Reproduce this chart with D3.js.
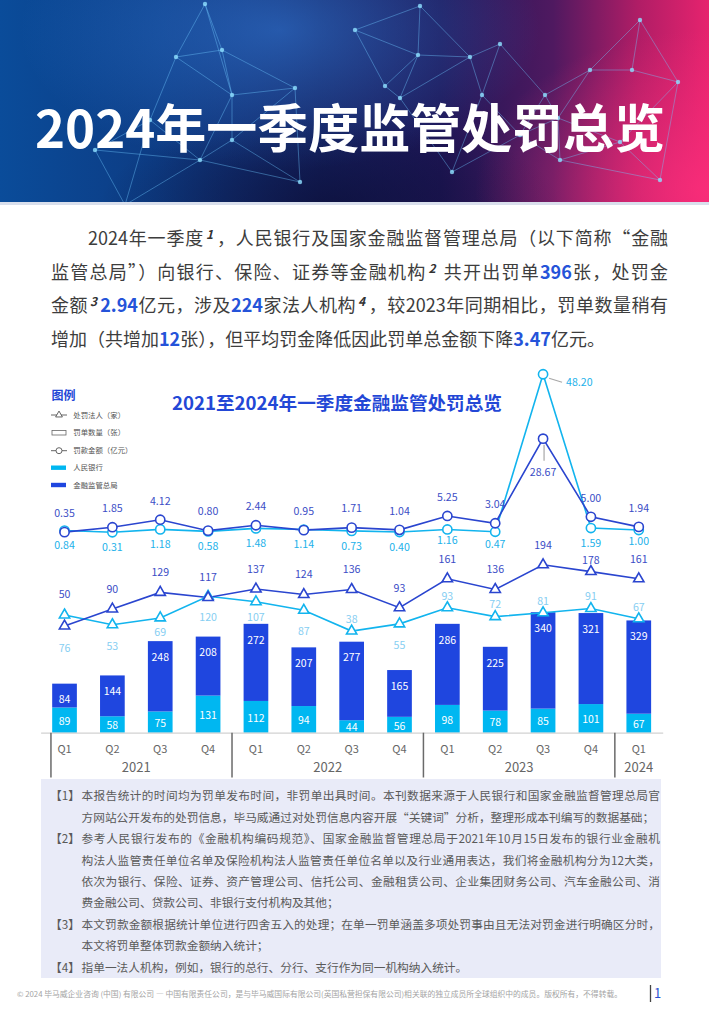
<!DOCTYPE html>
<html lang="zh-CN"><head><meta charset="utf-8">
<script src="https://cdn.jsdelivr.net/npm/d3@7"></script>
<style>
html,body{margin:0;padding:0;background:#fff;}
body{width:709px;height:1024px;position:relative;overflow:hidden;font-family:"Noto Sans CJK SC","Noto Sans",sans-serif;}
#svg{position:absolute;left:0;top:0;}
.para{position:absolute;left:51px;top:221.3px;width:617px;font-size:18px;color:#3d3d3d;}
.para .ln{height:33.5px;line-height:33.5px;text-align:justify;text-align-last:justify;}
.para .ln.first{padding-left:37px;}
.para .ln.last{text-align-last:left;}
.para b{color:#2553d9;font-weight:700;}
.para i{font-style:italic;font-weight:700;font-size:12px;position:relative;top:-6px;color:#333;margin:0 3px 0 2px;}
.fn{position:absolute;left:41px;top:779px;width:620px;height:199px;background:#e9ebf8;}
.fn .ln{position:absolute;left:40.5px;width:578.5px;font-size:11.7px;line-height:21.4px;height:21.4px;color:#5a5a5a;text-align:justify;text-align-last:justify;}
.fn .ln.last{text-align-last:left;}
.fn .tag{position:absolute;left:9px;font-size:11.7px;line-height:21.4px;color:#5a5a5a;}
</style></head>
<body>
<svg id="svg" width="709" height="1024"></svg>
<div class="para" id="para"></div>
<div class="fn" id="fn"></div>
<script>
// ---------------- DATA ----------------
const quarters = ['Q1','Q2','Q3','Q4','Q1','Q2','Q3','Q4','Q1','Q2','Q3','Q4','Q1'];
const yearLabels = ['2021','2022','2023','2024'];
const yearQuarterCounts = [4,4,4,1];
// 罚单数量（张）
const pbocTickets = [89,58,75,131,112,94,44,56,98,78,85,101,67];
const nfraTickets = [84,144,248,208,272,207,277,165,286,225,340,321,329];
// 处罚法人（家）
const pbocEntities = [76,53,69,120,107,87,38,55,93,72,81,91,67];
const nfraEntities = [50,90,129,117,137,124,136,93,161,136,194,178,161];
// 罚款金额（亿元）
const pbocFines = [0.84,0.31,1.18,0.58,1.48,1.14,0.73,0.40,1.16,0.47,48.20,1.59,1.00];
const nfraFines = [0.35,1.85,4.12,0.80,2.44,0.95,1.71,1.04,5.25,3.04,28.67,5.00,1.94];

const pageTitle = '2024年一季度监管处罚总览';
const chartTitle = '2021至2024年一季度金融监管处罚总览';
const legendTitle = '图例';
const legendItems = ['处罚法人（家）','罚单数量（张）','罚款金额（亿元）','人民银行','金融监管总局'];

const paraLines = [
  '2024年一季度<i>1</i>，人民银行及国家金融监督管理总局（以下简称“金融',
  '监管总局”）向银行、保险、证券等金融机构<i>2</i> 共开出罚单<b>396</b>张，处罚金',
  '金额<i>3</i><b>2.94</b>亿元，涉及<b>224</b>家法人机构<i>4</i>，较2023年同期相比，罚单数量稍有',
  '增加（共增加<b>12</b>张），但平均罚金降低因此罚单总金额下降<b>3.47</b>亿元。'
];
const footnotes = [
  {tag:'【1】', lines:['本报告统计的时间均为罚单发布时间，非罚单出具时间。本刊数据来源于人民银行和国家金融监督管理总局官','方网站公开发布的处罚信息，毕马威通过对处罚信息内容开展“关键词”分析，整理形成本刊编写的数据基础；']},
  {tag:'【2】', lines:['参考人民银行发布的《金融机构编码规范》、国家金融监督管理总局于2021年10月15日发布的银行业金融机','构法人监管责任单位名单及保险机构法人监管责任单位名单以及行业通用表达，我们将金融机构分为12大类，','依次为银行、保险、证券、资产管理公司、信托公司、金融租赁公司、企业集团财务公司、汽车金融公司、消','费金融公司、贷款公司、非银行支付机构及其他；']},
  {tag:'【3】', lines:['本文罚款金额根据统计单位进行四舍五入的处理；在单一罚单涵盖多项处罚事由且无法对罚金进行明确区分时，','本文将罚单整体罚款金额纳入统计；']},
  {tag:'【4】', lines:['指单一法人机构，例如，银行的总行、分行、支行作为同一机构纳入统计。']}
];
const footerText = '© 2024 毕马威企业咨询 (中国) 有限公司 — 中国有限责任公司，是与毕马威国际有限公司(英国私营担保有限公司)相关联的独立成员所全球组织中的成员。版权所有，不得转载。';
const pageNumber = '1';

// ---------------- STYLE ----------------
const C = {
  darkBar:'#1f46df', lightBar:'#00b7f1',
  darkLine:'#2a45cf', lightLine:'#12b4ee',
  darkLabel:'#3b4dc6', lightFineLabel:'#22b1ea', lightEntLabel:'#86cef2',
  blueTitle:'#2347d6'
};
const FONT = '"Noto Sans CJK SC","Noto Sans",sans-serif';

const svg = d3.select('#svg');
const defs = svg.append('defs');

// ---------------- HEADER (decorative) ----------------
defs.append('clipPath').attr('id','hclip').append('rect').attr('x',0).attr('y',0).attr('width',709).attr('height',202);
const hg = defs.append('linearGradient').attr('id','hg').attr('x1',0).attr('x2',1).attr('y1',0).attr('y2',0);
[[0,'#0a4c9a'],[0.22,'#0d3c84'],[0.45,'#14205e'],[0.62,'#1e1656'],[0.78,'#4f1960'],[0.9,'#b01d66'],[1,'#e6236e']]
  .forEach(s=>hg.append('stop').attr('offset',s[0]).attr('stop-color',s[1]));
function radial(id,color,op){
  const g=defs.append('radialGradient').attr('id',id);
  g.append('stop').attr('offset',0).attr('stop-color',color).attr('stop-opacity',op);
  g.append('stop').attr('offset',1).attr('stop-color',color).attr('stop-opacity',0);
}
radial('glowBlue','#3a8cf0',0.5);
radial('glowPink','#ff2f7c',0.75);
radial('darkC','#0a0b30',0.6);
const header = svg.append('g').attr('clip-path','url(#hclip)');
header.append('rect').attr('x',0).attr('y',0).attr('width',709).attr('height',202).attr('fill','url(#hg)');
header.append('ellipse').attr('cx',280).attr('cy',30).attr('rx',260).attr('ry',140).attr('fill','url(#glowBlue)');
header.append('ellipse').attr('cx',330).attr('cy',205).attr('rx',230).attr('ry',90).attr('fill','url(#darkC)');
header.append('ellipse').attr('cx',705).attr('cy',190).attr('rx',230).attr('ry',160).attr('fill','url(#glowPink)');
const bgNodes = [[205,4],[176,57],[222,50],[232,95],[295,88],[385,86],[400,98],[418,55],[420,6],[470,57],[482,95],[500,44],[545,95],[558,118],[590,70],[632,70],[640,20],[678,82],[560,160],[200,160],[232,140],[125,205],[300,182],[452,172],[620,142],[520,135],[355,30],[150,120],[660,180],[95,150]];
const edges=[];
bgNodes.forEach((a,i)=>{
  const near=bgNodes.map((b,j)=>({j,d:Math.hypot(a[0]-b[0],a[1]-b[1])})).filter(o=>o.j!==i).sort((p,q)=>p.d-q.d).slice(0,3);
  near.forEach(o=>{ if(!edges.some(e=>e[0]===o.j&&e[1]===i)) edges.push([i,o.j]); });
});
header.append('g').selectAll('line').data(edges).join('line')
  .attr('x1',e=>bgNodes[e[0]][0]).attr('y1',e=>bgNodes[e[0]][1])
  .attr('x2',e=>bgNodes[e[1]][0]).attr('y2',e=>bgNodes[e[1]][1])
  .attr('stroke','#6fc8ff').attr('stroke-opacity',0.45).attr('stroke-width',0.9);
header.append('g').selectAll('circle').data(bgNodes).join('circle')
  .attr('cx',d=>d[0]).attr('cy',d=>d[1]).attr('r',2.2).attr('fill','#8fe0ff').attr('opacity',0.8);
svg.append('rect').attr('x',0).attr('y',202).attr('width',709).attr('height',3).attr('fill','#d9dfec');
svg.append('text').attr('x',35).attr('y',147.5).attr('textLength',630).attr('lengthAdjust','spacingAndGlyphs')
  .attr('font-family',FONT).attr('font-weight',700).attr('font-size',52).attr('fill','#fff').text(pageTitle);

// ---------------- PARAGRAPH ----------------
d3.select('#para').selectAll('div').data(paraLines).join('div')
  .attr('class',(d,i)=>'ln'+(i===0?' first':'')+(i===paraLines.length-1?' last':''))
  .html(d=>d);

// ---------------- FOOTNOTES ----------------
const fn = d3.select('#fn');
let li=0;
footnotes.forEach(n=>{
  fn.append('div').attr('class','tag').style('top',(5.3+li*21.4)+'px').text(n.tag);
  n.lines.forEach((t,k)=>{
    fn.append('div').attr('class','ln'+(k===n.lines.length-1?' last':'')).style('top',(5.3+li*21.4)+'px').text(t);
    li++;
  });
});

// ---------------- CHART ----------------
const base = 732.7;
const x = d3.scaleBand().domain(d3.range(quarters.length)).range([40.6,662.7]).paddingInner(0.484).paddingOuter(0.242);
const cx = i => x(i)+x.bandwidth()/2;
const yBar = d3.scaleLinear().domain([0,400]).range([base,base-113.4]);
const yEnt = d3.scaleLinear().domain([0,200]).range([647.25,562.25]);
const yFine = d3.scaleLinear().domain([0,50]).range([533.3,368.3]);

const rows = quarters.map((q,i)=>({i, pboc:pbocTickets[i], nfra:nfraTickets[i]}));
const stack = d3.stack().keys(['pboc','nfra'])(rows);
const g = svg.append('g').attr('font-family',FONT);

// bars
g.append('g').selectAll('g').data(stack).join('g')
  .attr('fill',s=>s.key==='pboc'?C.lightBar:C.darkBar)
  .selectAll('rect').data(s=>s).join('rect')
  .attr('x',d=>x(d.data.i)).attr('width',x.bandwidth())
  .attr('y',d=>yBar(d[1])).attr('height',d=>yBar(d[0])-yBar(d[1]));
// bar labels
g.append('g').selectAll('text').data(stack[0]).join('text')
  .attr('x',d=>cx(d.data.i)).attr('y',d=>(yBar(d[0])+yBar(d[1]))/2+1+3.8)
  .attr('text-anchor','middle').attr('font-size',10.5).attr('fill','#fff').text(d=>d.data.pboc);
g.append('g').selectAll('text').data(stack[1]).join('text')
  .attr('x',d=>cx(d.data.i)).attr('y',d=>yBar(d[1])+16+3.8)
  .attr('text-anchor','middle').attr('font-size',10.5).attr('fill','#fff').text(d=>d.data.nfra);

// axis
const axis = g.append('g').attr('transform',`translate(0,${base})`)
  .call(d3.axisBottom(x).tickSize(0).tickFormat(i=>quarters[i]));
axis.select('.domain').attr('stroke','#d2d2d2').attr('stroke-width',1.2);
axis.selectAll('text').attr('y',0).attr('dy',0).attr('transform','translate(0,20.3)')
  .attr('font-family',FONT).attr('font-size',11).attr('fill','#666');
// year separators + labels
let start=0;
const seps=[cx(0)-x.bandwidth()*0.55];
yearLabels.forEach((y,k)=>{
  const n=yearQuarterCounts[k];
  const mid=(cx(start)+cx(start+n-1))/2;
  g.append('text').attr('x',mid).attr('y',771.7).attr('text-anchor','middle')
    .attr('font-size',13).attr('fill','#666').text(y);
  if(k<yearLabels.length-1) seps.push(cx(start+n-1)+x.step()/2);
  start+=n;
});
g.append('g').selectAll('line').data(seps).join('line')
  .attr('x1',d=>d).attr('x2',d=>d).attr('y1',base).attr('y2',777.5)
  .attr('stroke','#6a6a6a').attr('stroke-width',1.5);

// lines
const tri = d3.symbol(d3.symbolTriangle,46)();
function drawLine(vals, yS, color){
  g.append('path').datum(vals)
    .attr('d',d3.line().x((d,i)=>cx(i)).y(d=>yS(d)))
    .attr('fill','none').attr('stroke',color).attr('stroke-width',1.6);
}
drawLine(pbocEntities,yEnt,C.lightLine);
drawLine(nfraEntities,yEnt,C.darkLine);
drawLine(pbocFines,yFine,C.lightLine);
drawLine(nfraFines,yFine,C.darkLine);
function drawTri(vals,color){
  g.append('g').selectAll('path').data(vals).join('path')
    .attr('d',tri).attr('transform',(d,i)=>`translate(${cx(i)},${yEnt(d)})`)
    .attr('fill','#fff').attr('stroke',color).attr('stroke-width',1.6);
}
function drawCirc(vals,color){
  g.append('g').selectAll('circle').data(vals).join('circle')
    .attr('cx',(d,i)=>cx(i)).attr('cy',d=>yFine(d)).attr('r',4.6)
    .attr('fill','#fff').attr('stroke',color).attr('stroke-width',1.6);
}
drawTri(pbocEntities,C.lightLine);
drawTri(nfraEntities,C.darkLine);
drawCirc(pbocFines,C.lightLine);
drawCirc(nfraFines,C.darkLine);

// labels
const fs=10.6, mid=3.8;
// dark entities: above; nudges to avoid overlaps
const nfraEntNudge = {0:-32, 11:-11};
g.append('g').selectAll('text').data(nfraEntities).join('text')
  .attr('x',(d,i)=>cx(i)).attr('y',(d,i)=>yEnt(d)+(nfraEntNudge[i]??-20)+mid)
  .attr('text-anchor','middle').attr('font-size',fs).attr('fill',C.darkLabel).text(d=>d);
// light entities: below in 2021-2022, above where bars are tall
const pbocEntNudge = {0:33, 2:14, 4:15, 6:-12};
g.append('g').selectAll('text').data(pbocEntities).join('text')
  .attr('x',(d,i)=>cx(i)).attr('y',(d,i)=>yEnt(d)+(pbocEntNudge[i]??(i>=8?-12:21))+mid)
  .attr('text-anchor','middle').attr('font-size',fs).attr('fill',C.lightEntLabel).text(d=>d);
// dark fines: above, max value below with leader
const nfraMax=d3.max(nfraFines);
g.append('g').selectAll('text').data(nfraFines).join('text')
  .attr('x',(d,i)=>cx(i)).attr('y',d=>yFine(d)+(d===nfraMax?34:-19)+mid)
  .attr('text-anchor','middle').attr('font-size',fs).attr('fill',C.darkLabel).text(d=>d.toFixed(2));
nfraFines.forEach((d,i)=>{ if(d===nfraMax)
  g.append('line').attr('x1',cx(i)+1).attr('x2',cx(i)+1).attr('y1',yFine(d)+6).attr('y2',yFine(d)+22)
    .attr('stroke','#a8a8a8').attr('stroke-width',1.2); });
// light fines: below, max value to the right with leader
const pbocMax=d3.max(pbocFines);
const pbocFineNudge = {8:11, 9:12, 12:11};
g.append('g').selectAll('text').data(pbocFines).join('text')
  .attr('x',(d,i)=>d===pbocMax?cx(i)+23:cx(i))
  .attr('y',(d,i)=>yFine(d)+(d===pbocMax?8:(pbocFineNudge[i]??15))+mid)
  .attr('text-anchor',d=>d===pbocMax?'start':'middle').attr('font-size',fs).attr('fill',C.lightFineLabel).text(d=>d.toFixed(2));
pbocFines.forEach((d,i)=>{ if(d===pbocMax)
  g.append('path').attr('d',`M${cx(i)+6},${yFine(d)+4}L${cx(i)+19},${yFine(d)+8}`)
    .attr('fill','none').attr('stroke','#a8a8a8').attr('stroke-width',1.2); });

// chart title
g.append('text').attr('x',172).attr('y',410).attr('textLength',330).attr('lengthAdjust','spacingAndGlyphs')
  .attr('font-size',18).attr('font-weight',700).attr('fill',C.blueTitle).text(chartTitle);

// legend
const lg = g.append('g');
lg.append('text').attr('x',51.5).attr('y',400).attr('font-size',12).attr('font-weight',700).attr('fill',C.blueTitle).text(legendTitle);
const rowsY=[415,432.7,450.7,467.7,485];
lg.append('line').attr('x1',51).attr('x2',67).attr('y1',rowsY[0]).attr('y2',rowsY[0]).attr('stroke','#555').attr('stroke-width',0.9);
lg.append('path').attr('d',d3.symbol(d3.symbolTriangle,20)()).attr('transform',`translate(59,${rowsY[0]})`).attr('fill','#fff').attr('stroke','#555').attr('stroke-width',0.9);
lg.append('rect').attr('x',52).attr('y',rowsY[1]-2.3).attr('width',14).attr('height',4.6).attr('fill','#fff').attr('stroke','#666').attr('stroke-width',0.8);
lg.append('line').attr('x1',51).attr('x2',67).attr('y1',rowsY[2]).attr('y2',rowsY[2]).attr('stroke','#555').attr('stroke-width',0.9);
lg.append('circle').attr('cx',59).attr('cy',rowsY[2]).attr('r',3).attr('fill','#fff').attr('stroke','#555').attr('stroke-width',0.9);
lg.append('rect').attr('x',51).attr('y',rowsY[3]-2.2).attr('width',15).attr('height',4.4).attr('fill',C.lightBar);
lg.append('rect').attr('x',51).attr('y',rowsY[4]-2.2).attr('width',15).attr('height',4.4).attr('fill',C.darkBar);
lg.selectAll('text.li').data(legendItems).join('text').attr('class','li')
  .attr('x',73.3).attr('y',(d,i)=>rowsY[i]+2.7).attr('font-size',7.4).attr('fill','#555').text(d=>d);

// footer
svg.append('text').attr('x',17).attr('y',996.8).attr('textLength',605).attr('lengthAdjust','spacingAndGlyphs')
  .attr('font-family',FONT).attr('font-size',7.6).attr('fill','#a3a3a3').text(footerText);
svg.append('line').attr('x1',650.5).attr('x2',650.5).attr('y1',985).attr('y2',1002).attr('stroke','#444').attr('stroke-width',1.3);
svg.append('text').attr('x',654).attr('y',998).attr('font-family',FONT).attr('font-size',13).attr('fill','#2b4fd0').text(pageNumber);
</script>
</body></html>
